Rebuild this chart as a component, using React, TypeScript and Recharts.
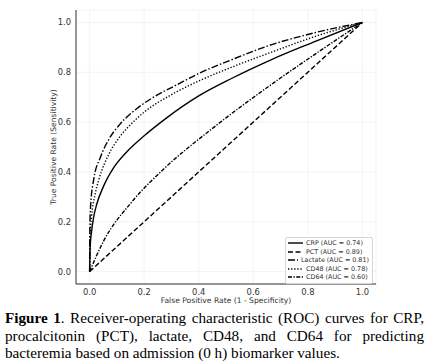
import { LineChart, Line, XAxis, YAxis, CartesianGrid, Legend } from 'recharts';

const seriesNames = [
  'CRP (AUC = 0.74)',
  'PCT (AUC = 0.89)',
  'Lactate (AUC = 0.81)',
  'CD48 (AUC = 0.78)',
  'CD64 (AUC = 0.60)',
];

// ROC points (false positive rate / true positive rate)
const crpFpr = [0, 0.002, 0.007, 0.015, 0.026, 0.05, 0.09, 0.14, 0.2, 0.28, 0.4, 0.52, 0.665, 0.83, 1];
const crpTpr = [0, 0.1, 0.16, 0.22, 0.27, 0.34, 0.42, 0.485, 0.545, 0.615, 0.705, 0.775, 0.85, 0.925, 1];

const pctFpr = [0, 1];
const pctTpr = [0, 1];

const lactateFpr = [0, 0.001, 0.004, 0.015, 0.04, 0.07, 0.11, 0.18, 0.25, 0.32, 0.4, 0.52, 0.665, 0.83, 1];
const lactateTpr = [0, 0.19, 0.27, 0.37, 0.46, 0.53, 0.59, 0.66, 0.71, 0.75, 0.795, 0.85, 0.91, 0.96, 1];

const cd48Fpr = [0, 0.001, 0.007, 0.02, 0.034, 0.07, 0.11, 0.15, 0.2, 0.3, 0.4, 0.52, 0.665, 0.83, 1];
const cd48Tpr = [0, 0.13, 0.22, 0.31, 0.37, 0.47, 0.54, 0.59, 0.64, 0.71, 0.765, 0.82, 0.88, 0.945, 1];

const cd64Fpr = [0, 0.05, 0.155, 0.27, 0.445, 0.665, 0.85, 1];
const cd64Tpr = [0, 0.12, 0.28, 0.41, 0.57, 0.75, 0.89, 1];

const xTicks = [0, 0.2, 0.4, 0.6, 0.8, 1.0];
const yTicks = [0, 0.2, 0.4, 0.6, 0.8, 1.0];

const dashes = ['', '5 2.5', '7 2 1.5 2', '1.3 1.8', '4 1.5 1.3 1.5'];

const toPoints = (fpr: number[], tpr: number[]) => fpr.map((x, i) => ({ x, y: tpr[i] }));

const series = [
  toPoints(crpFpr, crpTpr),
  toPoints(pctFpr, pctTpr),
  toPoints(lactateFpr, lactateTpr),
  toPoints(cd48Fpr, cd48Tpr),
  toPoints(cd64Fpr, cd64Tpr),
];

const sans = 'DejaVu Sans, sans-serif';

function RocLegend() {
  return (
    <div
      style={{
        background: 'rgba(255,255,255,0.85)',
        border: '1px solid #d6d6d6',
        borderRadius: 2,
        padding: '1px 3px 1px 2px',
        fontFamily: sans,
        fontSize: 6.4,
        color: '#333',
      }}
    >
      {seriesNames.map((name, i) => (
        <div key={name} style={{ display: 'flex', alignItems: 'center', height: 8.5 }}>
          <svg width={15} height={4} style={{ marginRight: 3 }}>
            <line x1={0} y1={2} x2={15} y2={2} stroke="#000" strokeWidth={1.4} strokeDasharray={dashes[i] || undefined} />
          </svg>
          <span style={{ whiteSpace: 'nowrap' }}>{name}</span>
        </div>
      ))}
    </div>
  );
}

export default function App() {
  return (
    <div style={{ width: 428, background: '#fff' }}>
      <style>{`body{margin:0}`}</style>
      <div style={{ width: 428, height: 310 }}>
        <LineChart width={428} height={310} margin={{ top: 10, right: 52, bottom: 0, left: 0 }}>
          <CartesianGrid stroke="#f0f0f0" strokeWidth={0.8} />
          <XAxis
            type="number"
            dataKey="x"
            domain={[-0.05, 1.05]}
            ticks={xTicks}
            allowDataOverflow
            tickFormatter={(v: number) => v.toFixed(1)}
            stroke="#333"
            tickLine={false}
            tickSize={3}
            height={26}
            tick={{ fontSize: 8.4, fill: '#333', fontFamily: sans }}
            label={{ value: 'False Positive Rate (1 - Specificity)', position: 'insideBottom', offset: 7, fontSize: 7.6, fill: '#333', fontFamily: sans }}
          />
          <YAxis
            type="number"
            dataKey="y"
            domain={[-0.05, 1.05]}
            ticks={yTicks}
            allowDataOverflow
            tickFormatter={(v: number) => v.toFixed(1)}
            stroke="#333"
            tickLine={false}
            tickSize={3}
            width={76}
            tick={{ fontSize: 8.4, fill: '#333', fontFamily: sans }}
            label={{ value: 'True Positive Rate (Sensitivity)', angle: -90, position: 'insideLeft', offset: 53, textAnchor: 'middle', fontSize: 7.6, fill: '#333', fontFamily: sans }}
          />
          {series.map((pts, i) => (
            <Line
              key={seriesNames[i]}
              data={pts}
              dataKey="y"
              name={seriesNames[i]}
              type="monotone"
              stroke="#000"
              strokeWidth={1.4}
              strokeDasharray={dashes[i] || undefined}
              dot={false}
              activeDot={false}
              isAnimationActive={false}
            />
          ))}
          <Legend
            layout="vertical"
            align="center"
            verticalAlign="middle"
            wrapperStyle={{ left: 285, top: 237, width: 88 }}
            content={() => <RocLegend />}
          />
        </LineChart>
      </div>
      <div
        style={{
          fontFamily: '"Liberation Serif", "Times New Roman", serif',
          fontSize: 15.2,
          lineHeight: '17.5px',
          color: '#000',
          marginLeft: 5,
          width: 419,
          marginTop: -1,
        }}
      >
        <div style={{ textAlign: 'justify', textAlignLast: 'justify' }}>
          <b>Figure 1</b>. Receiver-operating characteristic (ROC) curves for CRP,
        </div>
        <div style={{ textAlign: 'justify', textAlignLast: 'justify' }}>
          procalcitonin (PCT), lactate, CD48, and CD64 for predicting
        </div>
        <div>bacteremia based on admission (0 h) biomarker values.</div>
      </div>
    </div>
  );
}
